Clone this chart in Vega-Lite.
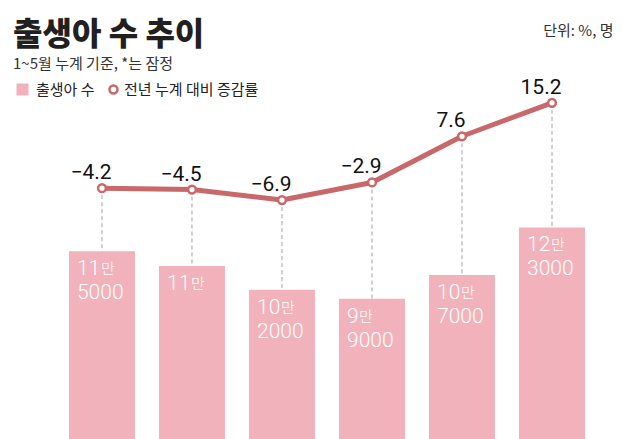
{
  "$schema": "https://vega.github.io/schema/vega-lite/v6.json",
  "width": 628,
  "height": 344,
  "autosize": {"type": "none"},
  "padding": {"top": 95, "left": 0, "right": 0, "bottom": 0},
  "background": "white",
  "config": {"view": {"stroke": null}, "font": "Noto Sans CJK KR"},
  "title": {
    "text": "출생아 수 추이",
    "subtitle": "1~5월 누계 기준, *는 잠정",
    "anchor": "start",
    "frame": "group",
    "dx": 13,
    "dy": 54,
    "font": "Noto Sans CJK KR",
    "fontSize": 32,
    "fontWeight": 900,
    "color": "#231f20",
    "subtitleFont": "Noto Sans CJK KR",
    "subtitleFontSize": 15,
    "subtitleColor": "#333333",
    "subtitlePadding": 5
  },
  "data": {
    "values": [
      {"year": "2020", "births": 115000, "man": 11, "rest": "5000", "rate": -4.2},
      {"year": "2021", "births": 110000, "man": 11, "rest": "", "rate": -4.5},
      {"year": "2022", "births": 102000, "man": 10, "rest": "2000", "rate": -6.9},
      {"year": "2023", "births": 99000, "man": 9, "rest": "9000", "rate": -2.9},
      {"year": "2024", "births": 107000, "man": 10, "rest": "7000", "rate": 7.6},
      {"year": "2025*", "births": 123000, "man": 12, "rest": "3000", "rate": 15.2}
    ]
  },
  "encoding": {
    "x": {
      "field": "year",
      "type": "nominal",
      "sort": null,
      "scale": {"paddingInner": 0.2667, "paddingOuter": 0.622, "align": 0.616},
      "axis": {
        "orient": "top",
        "labels": false,
        "ticks": false,
        "domain": false,
        "grid": false,
        "title": "단위: %, 명",
        "titleX": 613,
        "titleY": -60,
        "titleAlign": "right",
        "titleBaseline": "alphabetic",
        "titleFont": "Noto Sans CJK KR",
        "titleFontSize": 15,
        "titleFontWeight": "normal",
        "titleColor": "#333333"
      }
    }
  },
  "layer": [
    {
      "mark": {"type": "rule", "strokeDash": [4, 3], "color": "#a0a0a0", "strokeWidth": 1},
      "encoding": {
        "y": {"field": "rate", "type": "quantitative", "scale": {"domain": [-61.2, 16.98], "zero": false}, "axis": null},
        "y2": {"datum": -61.2}
      }
    },
    {
      "mark": {"type": "bar", "clip": true},
      "encoding": {
        "y": {"field": "births", "type": "quantitative", "scale": {"domain": [51800, 167600], "zero": false}, "axis": null},
        "color": {
          "datum": "출생아 수",
          "type": "nominal",
          "scale": {"range": ["#f1b2bc"]},
          "legend": {
            "orient": "none",
            "legendX": 15,
            "legendY": -13,
            "title": null,
            "padding": 0,
            "symbolType": "square",
            "labelFont": "Noto Sans CJK KR",
            "labelFontSize": 15,
            "labelColor": "#222222",
            "labelOffset": 6,
            "symbolSize": 144,
            "symbolStrokeWidth": 0,
            "symbolOpacity": 1
          }
        }
      }
    },
    {
      "mark": {"type": "text", "align": "left", "baseline": "alphabetic", "dx": 8, "dy": 24, "font": "Roboto", "fontSize": 21, "fontWeight": 300, "color": "white"},
      "encoding": {
        "x": {"field": "year", "type": "nominal", "sort": null, "bandPosition": 0},
        "y": {"field": "births", "type": "quantitative", "scale": {"domain": [51800, 167600], "zero": false}, "axis": null},
        "text": {"field": "man", "type": "nominal"}
      }
    },
    {
      "transform": [{"filter": "datum.man >= 10"}],
      "mark": {"type": "text", "align": "left", "baseline": "alphabetic", "dx": 32, "dy": 23, "font": "Noto Sans CJK KR", "fontSize": 15, "fontWeight": 300, "color": "white", "text": "만"},
      "encoding": {
        "x": {"field": "year", "type": "nominal", "sort": null, "bandPosition": 0},
        "y": {"field": "births", "type": "quantitative", "scale": {"domain": [51800, 167600], "zero": false}, "axis": null}
      }
    },
    {
      "transform": [{"filter": "datum.man < 10"}],
      "mark": {"type": "text", "align": "left", "baseline": "alphabetic", "dx": 20, "dy": 23, "font": "Noto Sans CJK KR", "fontSize": 15, "fontWeight": 300, "color": "white", "text": "만"},
      "encoding": {
        "x": {"field": "year", "type": "nominal", "sort": null, "bandPosition": 0},
        "y": {"field": "births", "type": "quantitative", "scale": {"domain": [51800, 167600], "zero": false}, "axis": null}
      }
    },
    {
      "mark": {"type": "text", "align": "left", "baseline": "alphabetic", "dx": 8, "dy": 48, "font": "Roboto", "fontSize": 21, "fontWeight": 300, "color": "white"},
      "encoding": {
        "x": {"field": "year", "type": "nominal", "sort": null, "bandPosition": 0},
        "y": {"field": "births", "type": "quantitative", "scale": {"domain": [51800, 167600], "zero": false}, "axis": null},
        "text": {"field": "rest", "type": "nominal"}
      }
    },
    {
      "mark": {"type": "line", "strokeWidth": 5, "strokeJoin": "round", "strokeCap": "round", "color": "#c9686a"},
      "encoding": {
        "y": {"field": "rate", "type": "quantitative", "scale": {"domain": [-61.2, 16.98], "zero": false}, "axis": null}
      }
    },
    {
      "mark": {"type": "point", "shape": "circle", "filled": false, "fill": "white", "fillOpacity": 1, "strokeWidth": 2.5, "size": 60, "opacity": 1},
      "encoding": {
        "y": {"field": "rate", "type": "quantitative", "scale": {"domain": [-61.2, 16.98], "zero": false}, "axis": null},
        "stroke": {
          "datum": "전년 누계 대비 증감률",
          "type": "nominal",
          "scale": {"range": ["#c9686a"]},
          "legend": {
            "orient": "none",
            "legendX": 106,
            "legendY": -13,
            "title": null,
            "padding": 0,
            "symbolType": "circle",
            "labelFont": "Noto Sans CJK KR",
            "labelFontSize": 15,
            "labelColor": "#222222",
            "labelOffset": 3,
            "symbolSize": 64,
            "symbolStrokeWidth": 2.5,
            "symbolFillColor": "white",
            "symbolOpacity": 1
          }
        }
      }
    },
    {
      "mark": {"type": "text", "align": "center", "baseline": "alphabetic", "dx": -11, "dy": -9, "font": "Roboto", "fontSize": 21, "color": "#111111"},
      "encoding": {
        "y": {"field": "rate", "type": "quantitative", "scale": {"domain": [-61.2, 16.98], "zero": false}, "axis": null},
        "text": {"field": "rate", "type": "quantitative", "format": ".1f"}
      }
    }
  ],
  "resolve": {"scale": {"y": "independent"}}
}
